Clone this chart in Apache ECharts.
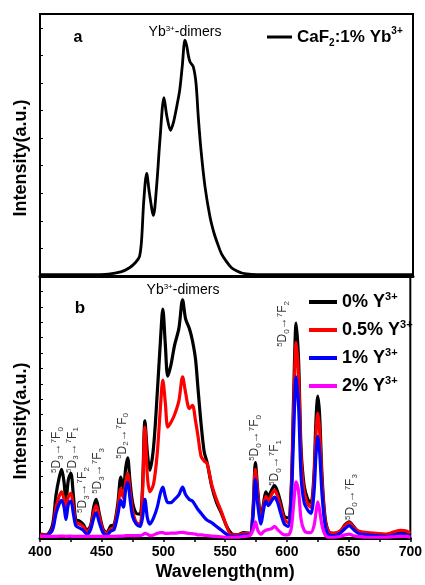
<!DOCTYPE html>
<html>
<head>
<meta charset="utf-8">
<script src="https://cdn.jsdelivr.net/npm/echarts@6/dist/echarts.min.js"></script>
<style>
  html, body { margin: 0; padding: 0; background: #fff; }
  #chart { width: 425px; height: 585px; }
</style>
</head>
<body>
<div id="chart"></div>
<script>
// Panel a: CaF2:1% Yb3+ emission
const wlA = [400, 440, 455, 465, 472, 477, 480, 481.7, 483.5, 485.8, 488, 491.2, 493.8, 496.5, 499.7, 502, 505, 507.5, 510, 512.4,
  514.4, 516.6, 518, 519.3, 520.7, 523.3, 525.5, 527.3, 529.5, 532.7, 536.7, 540, 543, 546, 550, 554, 558, 563, 570, 580, 700];
const intA = [0.05, 0.05, 0.07, 0.15, 0.3, 0.5, 0.7, 1.3, 2.75, 3.72, 3.0, 2.2, 3.26, 4.95, 6.47, 5.8, 5.28, 5.6, 6.15, 6.75,
  7.6, 8.55, 8.35, 8.0, 7.76, 7.58, 6.98, 5.77, 4.56, 3.24, 2.15, 1.55, 1.15, 0.8, 0.52, 0.3, 0.19, 0.1, 0.06, 0.05, 0.05];

// Panel b: Y3+ co-doped series on a shared wavelength grid
const wlB = [400, 405, 410, 413, 415.5, 417.5, 419.5, 421, 423, 425,
  427, 429, 432, 435, 438, 441, 443.5, 445.5, 448, 451,
  454, 457.5, 460, 463, 465.5, 467.5, 469.5, 471, 473, 475,
  478, 481, 483, 485, 487, 489, 492, 495, 497.5, 499.5,
  501.5, 503.5, 506, 509, 512.5, 515.5, 518, 521, 523.5, 526,
  528, 530.5, 533, 535.5, 539, 543, 547, 551, 555, 560,
  565, 570, 572.5, 574.5, 576.5, 579, 581, 583, 585, 587.5,
  590, 592.5, 595, 598, 601, 603.5, 605.5, 607.5, 609.5, 611.5,
  614, 617, 619.5, 622, 623.5, 625, 626.5, 628.5, 631, 634,
  638, 643, 647, 650.5, 654, 658, 665, 672, 680, 687,
  692, 697, 700];
const int0 = [0.25, 0.2, 0.8, 2.8, 3.9, 4.45, 3.6, 2.4, 3.8, 4.2,
  2.8, 1.2, 1.1, 0.9, 0.5, 0.8, 2.0, 2.5, 1.6, 0.6,
  0.35, 0.8, 0.85, 2.2, 3.95, 3.2, 4.6, 5.2, 3.6, 2.3,
  1.6, 1.55, 3.2, 7.6, 5.5, 4.4, 5.9, 9.4, 12.7, 14.85,
  12.6, 10.5, 11.2, 12.5, 13.6, 15.45, 14.2, 13.6, 12.8, 11.6,
  9.7, 7.4, 5.6, 4.85, 3.4, 2.3, 1.6, 0.8, 0.3, 0.2,
  0.35, 0.3, 1.8, 4.9, 3.0, 1.3, 2.2, 3.0, 2.7, 3.1,
  3.4, 3.0, 2.3, 1.4, 1.3, 3.2, 9.3, 13.95, 11.5, 5.8,
  3.4, 2.5, 2.3, 4.2, 7.5, 9.2, 8.0, 4.0, 1.3, 0.4,
  0.3, 0.4, 0.85, 1.05, 0.75, 0.4, 0.3, 0.25, 0.2, 0.35,
  0.4, 0.35, 0.2];
const int05 = [0.2, 0.2, 0.6, 2.0, 2.7, 3.0, 2.5, 1.7, 2.7, 2.9,
  2.0, 1.0, 0.9, 0.75, 0.4, 0.7, 1.7, 2.1, 1.4, 0.5,
  0.3, 0.6, 0.7, 1.9, 3.2, 2.6, 3.7, 4.2, 3.0, 1.8,
  1.0, 0.9, 2.8, 7.2, 4.0, 3.0, 3.5, 5.5, 8.4, 10.25,
  8.8, 7.2, 7.5, 8.0, 8.9, 10.45, 9.4, 8.4, 8.6, 7.6,
  6.6, 5.3, 5.0, 4.8, 3.5, 2.5, 1.7, 0.8, 0.2, 0.2,
  0.3, 0.3, 1.6, 4.45, 2.7, 1.1, 2.0, 2.7, 2.4, 2.8,
  3.1, 2.7, 2.0, 1.2, 1.0, 3.0, 8.3, 12.7, 10.4, 5.2,
  3.0, 2.2, 2.0, 3.8, 6.6, 8.1, 7.0, 3.6, 1.1, 0.4,
  0.3, 0.45, 0.8, 1.0, 0.7, 0.45, 0.35, 0.3, 0.25, 0.4,
  0.5, 0.45, 0.3];
const int1 = [0.1, 0.15, 0.5, 1.6, 2.2, 2.45, 2.0, 1.2, 2.2, 2.4,
  1.6, 0.8, 0.65, 0.5, 0.25, 0.55, 1.3, 1.65, 1.0, 0.35,
  0.2, 0.45, 0.55, 1.5, 2.45, 2.0, 3.2, 3.6, 2.5, 1.4,
  0.9, 0.75, 1.3, 2.5, 1.3, 0.9, 1.3, 2.0, 2.9, 3.3,
  2.7, 2.3, 2.3, 2.5, 2.8, 3.3, 2.8, 2.5, 2.4, 2.1,
  1.85, 1.6, 1.35, 1.15, 1.0, 0.75, 0.5, 0.25, 0.1, 0.1,
  0.2, 0.2, 1.3, 3.8, 2.1, 0.9, 1.8, 2.4, 2.1, 2.4,
  2.65, 2.3, 1.6, 0.9, 0.75, 2.4, 6.8, 10.45, 8.5, 4.0,
  2.3, 1.8, 1.6, 3.0, 5.3, 6.6, 5.6, 2.8, 0.8, 0.2,
  0.15, 0.3, 0.6, 0.8, 0.55, 0.3, 0.2, 0.15, 0.1, 0.2,
  0.25, 0.2, 0.1];
const int2 = [0.1, 0.1, 0.1, 0.1, 0.12, 0.12, 0.12, 0.1, 0.12, 0.12,
  0.1, 0.1, 0.1, 0.1, 0.1, 0.1, 0.1, 0.1, 0.1, 0.1,
  0.1, 0.1, 0.1, 0.12, 0.12, 0.12, 0.15, 0.15, 0.15, 0.15,
  0.15, 0.15, 0.2, 0.3, 0.25, 0.15, 0.2, 0.3, 0.35, 0.35,
  0.3, 0.3, 0.32, 0.32, 0.35, 0.37, 0.33, 0.3, 0.28, 0.25,
  0.2, 0.2, 0.18, 0.15, 0.12, 0.1, 0.08, 0.05, 0.05, 0.05,
  0.1, 0.15, 0.5, 1.05, 0.5, 0.25, 0.4, 0.5, 0.55, 0.6,
  0.75, 0.55, 0.35, 0.2, 0.2, 0.6, 2.2, 3.65, 3.0, 1.2,
  0.5, 0.35, 0.35, 0.8, 1.6, 2.35, 1.8, 0.8, 0.2, 0.05,
  0.05, 0.1, 0.2, 0.25, 0.15, 0.1, 0.05, 0.05, 0.05, 0.08,
  0.1, 0.1, 0.05];

const namesB = ['0%', '0.5%', '1%', '2%'];
const colorsB = ['#000000', '#ff0000', '#0000ff', '#ff00ff'];
const seriesB = [int0, int05, int1, int2];

// Eu3+ transition labels (wavelength, height, 5D level, 7F level)
const annoWl = [413.9, 426.3, 434.8, 446.9, 467, 574.3, 590.4, 597, 652];
const annoY = [5.71, 5.71, 3.11, 4.35, 6.62, 6.49, 4.87, 13.89, 2.66];
const annoD = ['3', '3', '3', '3', '2', '0', '0', '0', '0'];
const annoF = ['0', '1', '2', '3', '0', '0', '1', '2', '3'];

const xTicks = [400, 450, 500, 550, 600, 650, 700];

const FONT = '"Liberation Sans", Arial, sans-serif';
const zip = (xs, ys) => xs.map((x, i) => [x, ys[i]]);

const chart = echarts.init(document.getElementById('chart'), null, { renderer: 'canvas' });

const supRich = {
  sup: { fontSize: 8, fontFamily: FONT, color: '#000', verticalAlign: 'top', lineHeight: 8 },
  sub: { fontSize: 8, fontFamily: FONT, color: '#000', verticalAlign: 'bottom', lineHeight: 8 },
  big: { fontSize: 12, fontFamily: FONT, color: '#000', lineHeight: 15 }
};

const centered = { align: 'center', verticalAlign: 'middle', textAlign: 'center', textVerticalAlign: 'middle', fill: '#000' };

const option = {
  animation: false,
  backgroundColor: '#fff',
  grid: [
    { left: 40, right: 12, top: 14, height: 262, show: true, borderColor: '#000', borderWidth: 2 },
    { left: 40, right: 12, top: 276, height: 262, show: true, borderColor: '#000', borderWidth: 2 }
  ],
  xAxis: [
    {
      gridIndex: 0, type: 'value', min: 400, max: 700, interval: 50,
      axisLine: { show: true, lineStyle: { color: '#000', width: 3 } },
      axisTick: { show: false }, axisLabel: { show: false }, splitLine: { show: false }
    },
    {
      gridIndex: 1, type: 'value', min: xTicks[0], max: xTicks[xTicks.length - 1], interval: 50,
      axisLine: { show: true, lineStyle: { color: '#000', width: 3 } },
      axisTick: { show: true, inside: false, length: 4, lineStyle: { color: '#000', width: 1.5 } },
      minorTick: { show: true, splitNumber: 2, length: 4, lineStyle: { color: '#000', width: 1.5 } },
      axisLabel: { show: true, margin: 7, color: '#000', fontWeight: 'bold', fontSize: 14, fontFamily: FONT },
      splitLine: { show: false },
      name: 'Wavelength(nm)', nameLocation: 'middle', nameGap: 25,
      nameTextStyle: { color: '#000', fontWeight: 'bold', fontSize: 18, fontFamily: FONT }
    }
  ],
  yAxis: [
    {
      gridIndex: 0, type: 'value', min: 0, max: 9.5, interval: 1,
      axisLine: { show: true, lineStyle: { color: '#000', width: 2 } },
      axisTick: { show: true, inside: true, length: 3, lineStyle: { color: '#000', width: 1 } },
      axisLabel: { show: false }, splitLine: { show: false }
    },
    {
      gridIndex: 1, type: 'value', min: 0, max: 17, interval: 1,
      axisLine: { show: true, lineStyle: { color: '#000', width: 2 } },
      axisTick: { show: true, inside: true, length: 3, lineStyle: { color: '#000', width: 1 } },
      axisLabel: { show: false }, splitLine: { show: false }
    }
  ],
  legend: [
    {
      data: ['CaF2:1% Yb3+'], left: 262, top: 21, orient: 'vertical', selectedMode: false,
      icon: 'rect', itemWidth: 25, itemHeight: 3,
      formatter: () => 'CaF{sub|2}:1% Yb{sup|3+}',
      textStyle: {
        color: '#000', fontWeight: 'bold', fontSize: 17, fontFamily: FONT, lineHeight: 22,
        rich: {
          sub: { fontSize: 10, fontWeight: 'bold', fontFamily: FONT, color: '#000', verticalAlign: 'bottom', lineHeight: 12 },
          sup: { fontSize: 10, fontWeight: 'bold', fontFamily: FONT, color: '#000', verticalAlign: 'top', lineHeight: 12 }
        }
      }
    },
    {
      data: namesB, left: 304, top: 286, orient: 'vertical', selectedMode: false,
      icon: 'rect', itemWidth: 28, itemHeight: 4, itemGap: 6,
      formatter: n => n + ' Y{sup|3+}',
      textStyle: {
        color: '#000', fontWeight: 'bold', fontSize: 18, fontFamily: FONT, lineHeight: 22,
        rich: {
          sup: { fontSize: 11, fontWeight: 'bold', fontFamily: FONT, color: '#000', verticalAlign: 'top', lineHeight: 13 }
        }
      }
    }
  ],
  graphic: [
    { type: 'text', x: 21, y: 158, rotation: Math.PI / 2,
      style: Object.assign({ text: 'Intensity(a.u.)', font: 'bold 18px ' + FONT }, centered) },
    { type: 'text', x: 21, y: 421, rotation: Math.PI / 2,
      style: Object.assign({ text: 'Intensity(a.u.)', font: 'bold 18px ' + FONT }, centered) },
    { type: 'text', x: 78, y: 38,
      style: Object.assign({ text: 'a', font: 'bold 16px ' + FONT }, centered) },
    { type: 'text', x: 80, y: 308,
      style: Object.assign({ text: 'b', font: 'bold 17px ' + FONT }, centered) },
    { type: 'text', x: 185, y: 32,
      style: Object.assign({ text: 'Yb{s|3+}-dimers', font: '14px ' + FONT,
        rich: { s: { fontSize: 8, fontFamily: FONT, fill: '#000', verticalAlign: 'top', lineHeight: 9 } } }, centered) },
    { type: 'text', x: 183, y: 290,
      style: Object.assign({ text: 'Yb{s|3+}-dimers', font: '14px ' + FONT,
        rich: { s: { fontSize: 8, fontFamily: FONT, fill: '#000', verticalAlign: 'top', lineHeight: 9 } } }, centered) }
  ],
  series: [
    {
      name: 'CaF2:1% Yb3+', type: 'line', xAxisIndex: 0, yAxisIndex: 0,
      data: zip(wlA, intA), showSymbol: false, smooth: 0.3,
      lineStyle: { color: '#000', width: 2.8 }, itemStyle: { color: '#000' }
    },
    ...namesB.map((n, k) => ({
      name: n, type: 'line', xAxisIndex: 1, yAxisIndex: 1,
      data: zip(wlB, seriesB[k]), showSymbol: false, smooth: 0.3,
      lineStyle: { color: colorsB[k], width: 3.2 }, itemStyle: { color: colorsB[k] }
    })),
    {
      type: 'scatter', xAxisIndex: 1, yAxisIndex: 1, silent: true,
      symbolSize: 1, itemStyle: { color: 'rgba(0,0,0,0)' },
      data: annoWl.map((w, i) => ({
        value: [w, annoY[i]],
        label: { formatter: '{sup|5}{big|D}{sub|' + annoD[i] + '}{big|→}{sup|7}{big|F}{sub|' + annoF[i] + '}' }
      })),
      label: {
        show: true, position: 'inside', rotate: 90, align: 'center', verticalAlign: 'middle',
        color: '#000', fontFamily: FONT, fontSize: 12, rich: supRich
      }
    }
  ]
};

chart.setOption(option);
</script>
</body>
</html>
